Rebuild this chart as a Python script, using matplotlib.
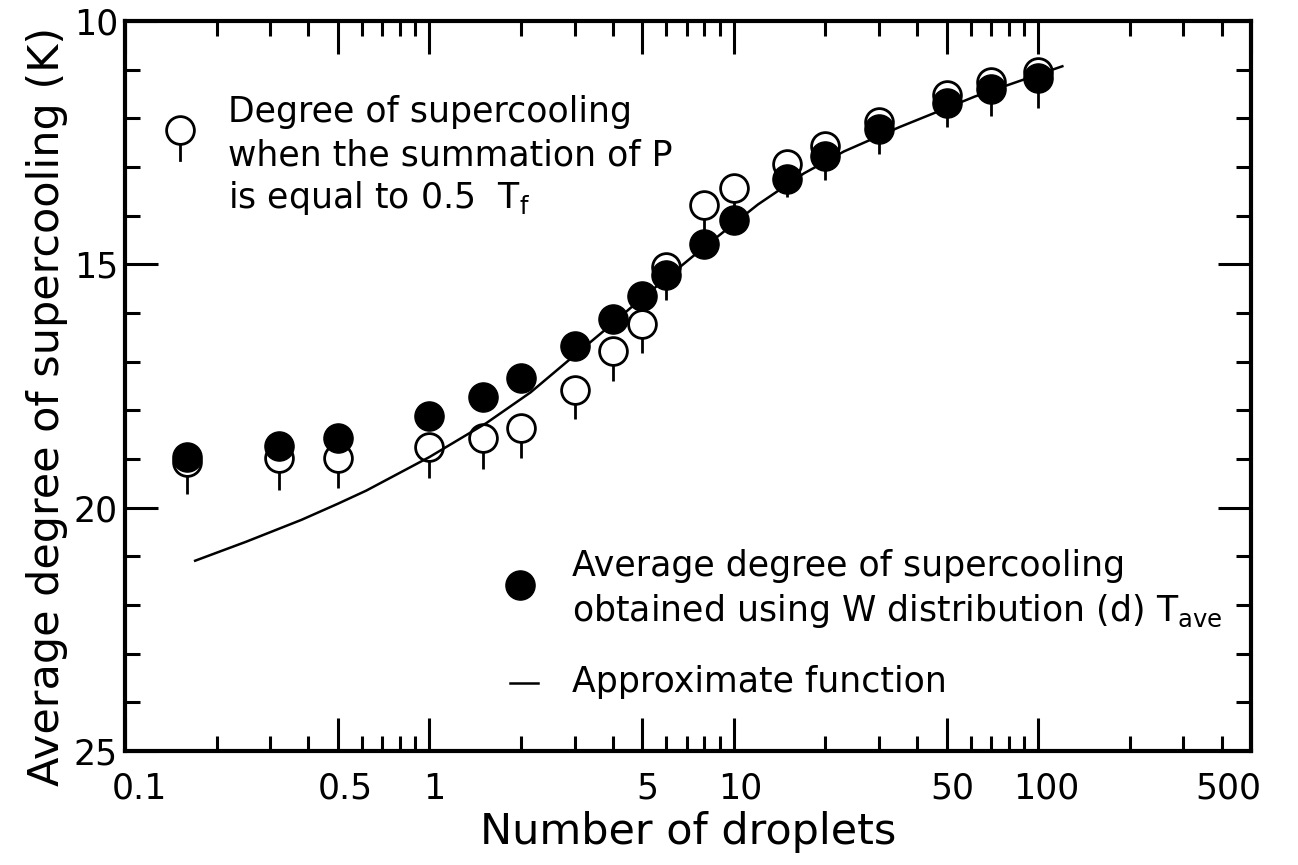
import matplotlib
matplotlib.use('Agg')
import matplotlib.pyplot as plt
import matplotlib.transforms as mtransforms
from matplotlib.ticker import NullFormatter

# ---------------- data ----------------
droplets = [0.16, 0.32, 0.5, 1, 1.5, 2, 3, 4, 5, 6, 8, 10, 15, 20, 30, 50, 70, 100]
# Average degree of supercooling obtained using W distribution (filled)
t_ave = [18.95, 18.74, 18.57, 18.12, 17.72, 17.33, 16.68, 16.12, 15.65, 15.21,
         14.59, 14.08, 13.25, 12.78, 12.21, 11.69, 11.39, 11.17]
# Degree of supercooling when summation of P = 0.5 (open)
t_half = [19.06, 18.98, 18.97, 18.75, 18.56, 18.36, 17.59, 16.79, 16.23, 15.05,
          13.78, 13.44, 12.94, 12.57, 12.07, 11.51, 11.25, 11.05]
t_half_err = [0.65, 0.65, 0.62, 0.65, 0.65, 0.62, 0.58, 0.60, 0.60, 0.69,
              0.68, 0.68, 0.68, 0.69, 0.67, 0.67, 0.71, 0.74]
# Approximate function
fit_x = [0.17, 0.25, 0.38, 0.5, 0.62, 1.0, 1.54, 2.15, 2.92, 3.72, 4.63, 7.32,
         12, 17, 23, 35, 46, 62, 88, 120]
fit_y = [21.09, 20.70, 20.25, 19.92, 19.65, 18.96, 18.26, 17.63, 16.93, 16.38,
         15.87, 14.84, 13.77, 13.13, 12.68, 12.18, 11.88, 11.55, 11.22, 10.93]

x_major = [0.1, 0.5, 1, 5, 10, 50, 100, 500]
x_major_labels = ['0.1', '0.5', '1', '5', '10', '50', '100', '500']
x_minor = [0.2, 0.3, 0.4, 0.6, 0.7, 0.8, 0.9, 2, 3, 4, 6, 7, 8, 9,
           20, 30, 40, 60, 70, 80, 90, 200, 300, 400]
y_major = [10, 15, 20, 25]
y_major_labels = ['10', '15', '20', '25']
y_minor = [11, 12, 13, 14, 16, 17, 18, 19, 21, 22, 23, 24]

# ---------------- figure ----------------
fig = plt.figure(figsize=(12.98, 8.65), dpi=100)
ax = fig.add_axes([0.0963, 0.1318, 0.8675, 0.8439])
ax.set_xscale('log')
ax.set_xlim(0.1, 500)
ax.set_ylim(25, 10)

# data
ax.plot(fit_x, fit_y, color='black', lw=1.8, zorder=4)
for x, y, e in zip(droplets, t_half, t_half_err):
    ax.plot([x, x], [y, y + e], color='black', lw=2.0, zorder=2, solid_capstyle='butt')
ax.plot(droplets, t_half, 'o', ms=20, mfc='white', mec='black', mew=2.0,
        ls='none', zorder=3)
ax.plot(droplets, t_ave, 'o', ms=21, mfc='black', mec='black', ls='none', zorder=5)

# ticks
ax.set_xticks(x_major)
ax.set_xticklabels(x_major_labels)
ax.set_xticks(x_minor, minor=True)
ax.xaxis.set_minor_formatter(NullFormatter())
ax.set_yticks(y_major)
ax.set_yticklabels(y_major_labels)
ax.set_yticks(y_minor, minor=True)

ax.tick_params(which='both', direction='in', top=True, right=True, width=2.2,
               color='black')
ax.tick_params(which='major', length=24)
ax.tick_params(which='minor', length=11)
ax.tick_params(axis='x', which='major', pad=15, labelsize=25)
ax.tick_params(axis='y', which='major', pad=5, labelsize=25)
for s in ax.spines.values():
    s.set_linewidth(3)

# shift x tick labels a bit like the original
offsets = [14, 8, 5, 5, 6, 6, 8, -23]
for lab, dx in zip(ax.get_xticklabels(), offsets):
    lab.set_transform(lab.get_transform() +
                      mtransforms.ScaledTranslation(dx / 100, 0, fig.dpi_scale_trans))

# axis labels
fig.text(0.0362, 0.5306, 'Average degree of supercooling (K)', rotation=90,
         ha='center', va='center', fontsize=31)
fig.text(0.530, 0.0243, 'Number of droplets', ha='center', va='baseline',
         fontsize=31)

# legend 1 (open circle)
tA = ax.transAxes
ax.plot([0.0488, 0.0488], [0.8507, 0.8096], color='black', lw=2.0,
        transform=tA, zorder=2, clip_on=False)
ax.plot([0.0488], [0.8507], 'o', ms=20, mfc='white', mec='black', mew=2.0,
        transform=tA, zorder=3, clip_on=False)
ax.text(0.0915, 0.8616, 'Degree of supercooling', transform=tA, fontsize=25,
        va='baseline', ha='left')
ax.text(0.0915, 0.8027, 'when the summation of P', transform=tA, fontsize=25,
        va='baseline', ha='left')
ax.text(0.0915, 0.7438, r'is equal to 0.5  T$_\mathregular{f}$', transform=tA,
        fontsize=25, va='baseline', ha='left')

# legend 2 (filled circle)
ax.plot([0.3508], [0.2274], 'o', ms=21, mfc='black', mec='black',
        transform=tA, zorder=5, clip_on=False)
ax.text(0.397, 0.2397, 'Average degree of supercooling', transform=tA,
        fontsize=25, va='baseline', ha='left')
ax.text(0.397, 0.1781, r'obtained using W distribution (d) T$_\mathregular{ave}$',
        transform=tA, fontsize=25, va='baseline', ha='left')

# legend 3 (line)
ax.plot([0.342, 0.367], [0.0932, 0.0932], color='black', lw=1.8, transform=tA)
ax.text(0.397, 0.0808, 'Approximate function', transform=tA, fontsize=25,
        va='baseline', ha='left')

fig.savefig('out.png', dpi=100)
